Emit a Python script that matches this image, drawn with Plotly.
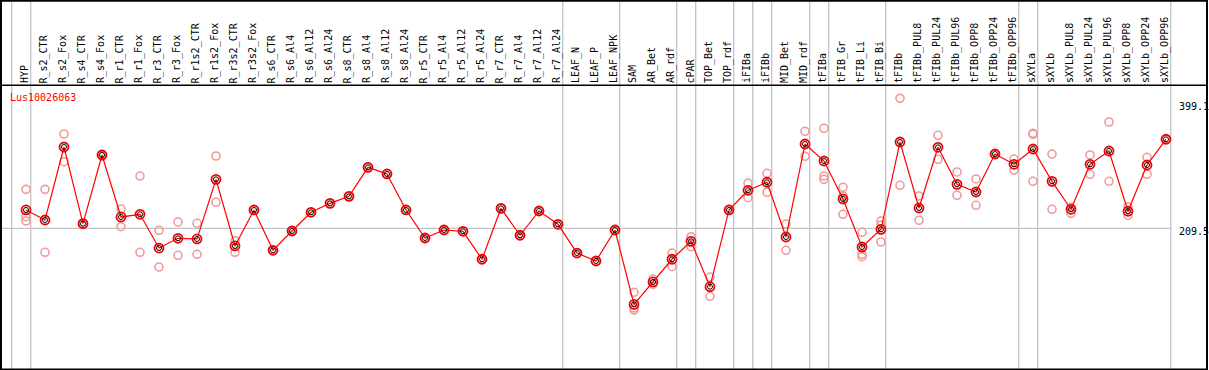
import plotly.graph_objects as go

# ---------------- data ----------------
categories = [
    "HYP", "R_s2_CTR", "R_s2_Fox", "R_s4_CTR", "R_s4_Fox", "R_r1_CTR", "R_r1_Fox",
    "R_r3_CTR", "R_r3_Fox", "R_r1s2_CTR", "R_r1s2_Fox", "R_r3s2_CTR", "R_r3s2_Fox",
    "R_s6_CTR", "R_s6_Al4", "R_s6_Al12", "R_s6_Al24", "R_s8_CTR", "R_s8_Al4",
    "R_s8_Al12", "R_s8_Al24", "R_r5_CTR", "R_r5_Al4", "R_r5_Al12", "R_r5_Al24",
    "R_r7_CTR", "R_r7_Al4", "R_r7_Al12", "R_r7_Al24", "LEAF_N", "LEAF_P", "LEAF_NPK",
    "SAM", "AR_Bet", "AR_rdf", "cPAR", "TOP_Bet", "TOP_rdf", "iFIBa", "iFIBb",
    "MID_Bet", "MID_rdf", "tFIBa", "tFIB_Gr", "tFIB_Li", "tFIB_Bi", "tFIBb",
    "tFIBb_PUL8", "tFIBb_PUL24", "tFIBb_PUL96", "tFIBb_OPP8", "tFIBb_OPP24",
    "tFIBb_OPP96", "sXYLa", "sXYLb", "sXYLb_PUL8", "sXYLb_PUL24", "sXYLb_PUL96",
    "sXYLb_OPP8", "sXYLb_OPP24", "sXYLb_OPP96",
]

mean_values = [
    236.3, 221.7, 328.1, 216.3, 316.5, 226.1, 230.0, 180.8, 195.0, 194.0, 281.0,
    183.8, 236.3, 177.5, 205.6, 232.9, 246.0, 256.2, 298.5, 288.8, 236.3, 195.4,
    207.1, 205.2, 164.4, 238.7, 199.4, 234.8, 215.4, 173.5, 161.9, 207.1,
    98.7, 131.3, 164.4, 190.6, 124.4, 236.3, 265.0, 276.7, 196.9, 332.5,
    307.7, 252.3, 182.3, 208.1, 335.4, 239.2, 327.7, 273.7, 262.5, 317.9, 302.9,
    325.2, 278.1, 237.3, 302.9, 322.3, 234.4, 301.9, 339.4,
]

replicate_values = [
    [266.4, 226.5, 220.2],
    [266.4, 174.6],
    [347.1, 306.7],
    [215.5, 217.0],
    [315.5, 317.5],
    [237.7, 211.9],
    [285.8, 174.6],
    [206.7, 153.1],
    [218.8, 170.2],
    [216.9, 171.7],
    [315.0, 247.5],
    [191.5, 174.6],
    [236.3],
    [177.5], [205.6], [232.9], [246.0], [256.2], [298.5], [288.8], [236.3],
    [195.4], [207.1], [205.2], [164.4], [238.7], [199.4], [234.8], [215.4],
    [173.5], [161.9], [207.1],
    [116.2, 93.3, 90.4],
    [135.6, 127.9],
    [173.5, 153.6],
    [197.3, 182.7],
    [138.5, 110.4],
    [236.3],
    [275.6, 254.2],
    [289.8, 262.1],
    [215.8, 177.5],
    [351.0, 314.6],
    [355.4, 285.8, 281.0],
    [269.4, 256.7, 230.0],
    [203.7, 171.7, 168.2],
    [220.2, 214.4, 189.6],
    [399.1, 272.3],
    [256.7, 221.2],
    [345.2, 310.2],
    [291.7, 257.7],
    [281.5, 243.1],
    [317.9],
    [310.6, 294.6],
    [348.1, 346.7, 278.1],
    [317.9, 237.3],
    [240.2, 231.4],
    [316.5, 288.3],
    [364.6, 278.1],
    [241.1, 228.5],
    [313.1, 288.3],
    [339.4],
]

group_sizes = [1, 28, 3, 3, 1, 2, 1, 1, 2, 1, 3, 7, 1, 7]
reference_line = 209.5
tick_values = [399.1, 209.5, 0]
tick_labels = ["399.1", "209.5", "0"]
gene_name = "Lus10026063"

# ---------------- geometry / style ----------------
W, H = 1209, 370
STEP = 19.0
X0_PX = 26.0
PX_PER_UNIT = 0.6857
ZERO_PX = 372.0

x_range = [-X0_PX / STEP, -X0_PX / STEP + W / STEP]
y_range = [(ZERO_PX - H) / PX_PER_UNIT, ZERO_PX / PX_PER_UNIT]


def pxx(x):
    return x / W


def pxy(y):
    return 1 - y / H


n = len(categories)
xs = list(range(n))

rep_x, rep_y = [], []
for i, reps in enumerate(replicate_values):
    for v in reps:
        rep_x.append(i)
        rep_y.append(v)

fig = go.Figure()

fig.add_trace(go.Scatter(
    x=rep_x, y=rep_y, mode="markers",
    marker=dict(symbol="circle-open", size=8, color="#f09a9a", line=dict(width=1.6, color="#f09a9a")),
    hoverinfo="skip",
))
fig.add_trace(go.Scatter(
    x=xs, y=mean_values, mode="lines+markers",
    line=dict(color="#ff0000", width=1.2),
    marker=dict(symbol="circle-open", size=9, color="#ee0000", line=dict(width=1.8, color="#ee0000")),
    text=categories, hoverinfo="text+y",
))
fig.add_trace(go.Scatter(
    x=xs, y=mean_values, mode="markers",
    marker=dict(symbol="circle-open", size=5, color="#000000", line=dict(width=1, color="#000000")),
    hoverinfo="skip",
))

shapes = []
GRID = "#c4c4c4"
b = 0
bounds = [0]
for s in group_sizes:
    b += s
    bounds.append(b)
off = 14.3 / STEP
for bi in bounds:
    shapes.append(dict(type="line", xref="x", yref="paper", x0=bi - off, x1=bi - off,
                       y0=0, y1=1, line=dict(color=GRID, width=1.3), layer="below"))
shapes.append(dict(type="line", xref="x", yref="y", x0=x_range[0], x1=bounds[-1] - off,
                   y0=reference_line, y1=reference_line, line=dict(color=GRID, width=1.3), layer="below"))
BL = "#000000"
shapes.append(dict(type="line", xref="paper", yref="paper", x0=pxx(0), x1=pxx(1208), y0=pxy(0.8), y1=pxy(0.8), line=dict(color=BL, width=2)))
shapes.append(dict(type="line", xref="paper", yref="paper", x0=pxx(1), x1=pxx(1), y0=pxy(0), y1=pxy(370), line=dict(color=BL, width=2)))
shapes.append(dict(type="line", xref="paper", yref="paper", x0=pxx(1207), x1=pxx(1207), y0=pxy(0), y1=pxy(370), line=dict(color=BL, width=2)))
shapes.append(dict(type="line", xref="paper", yref="paper", x0=pxx(0), x1=pxx(1208), y0=pxy(369.2), y1=pxy(369.2), line=dict(color=BL, width=1.6)))
shapes.append(dict(type="line", xref="paper", yref="paper", x0=pxx(0), x1=pxx(1208), y0=pxy(85.3), y1=pxy(85.3), line=dict(color=BL, width=1.5)))

FONT = "DejaVu Sans Mono"
annotations = []
for i, c in enumerate(categories):
    annotations.append(dict(x=i, y=pxy(84.5), xref="x", yref="paper", text=c, showarrow=False,
                            textangle=-90, xanchor="center", yanchor="bottom", xshift=-1.5,
                            font=dict(family=FONT, size=10, color="#000000"), borderpad=0))
annotations.append(dict(x=pxx(9), y=pxy(97.5), xref="paper", yref="paper", text=gene_name,
                        showarrow=False, xanchor="left", yanchor="middle",
                        font=dict(family=FONT, size=10, color="#ff0000"), borderpad=0))
tick_shift = [-8.4, -3.4, 9.3]
for v, t, s in zip(tick_values, tick_labels, tick_shift):
    annotations.append(dict(x=pxx(1177.5), y=v, xref="paper", yref="y", text=t, showarrow=False,
                            xanchor="left", yanchor="middle", yshift=s,
                            font=dict(family=FONT, size=10, color="#000000"), borderpad=0))

fig.update_layout(
    width=W, height=H, margin=dict(l=0, r=0, t=0, b=0),
    paper_bgcolor="white", plot_bgcolor="white", showlegend=False,
    xaxis=dict(range=x_range, showgrid=False, zeroline=False, showticklabels=False, showline=False),
    yaxis=dict(range=y_range, showgrid=False, zeroline=False, showticklabels=False, showline=False),
    shapes=shapes, annotations=annotations,
)

fig.write_html(
    "out.html",
    config={"displayModeBar": False},
    post_script="document.body.style.margin='0';document.body.style.overflow='hidden';",
)
